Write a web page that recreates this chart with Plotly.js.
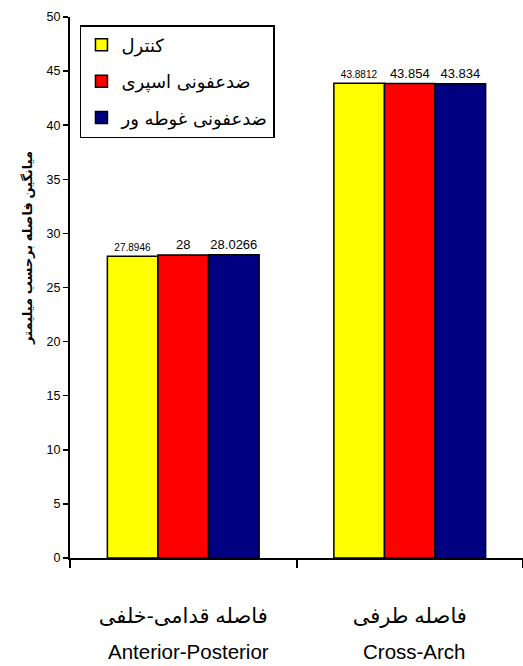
<!DOCTYPE html>
<html><head><meta charset="utf-8">
<script src="https://cdn.plot.ly/plotly-3.0.1.min.js"></script>
<style>html,body{margin:0;padding:0;background:#fff}#chart{width:523px;height:666px}</style>
</head><body><div id="chart"></div>
<script>
const categories = ["فاصله قدامی-خلفی", "فاصله طرفی"];
const categoriesEnglish = ["Anterior-Posterior", "Cross-Arch"];
const seriesNames = ["کنترل", "ضدعفونی اسپری", "ضدعفونی غوطه ور"];
const controlValues = [27.8946, 43.8812];
const sprayValues = [28, 43.854];
const immersionValues = [28.0266, 43.834];
const yTickVals = [0, 5, 10, 15, 20, 25, 30, 35, 40, 45, 50];
const yTitle = "میانگین فاصله برحسب میلیمتر";

const colors = ["#FFFF00", "#FF0000", "#000080"];
const labelSizes = [[10, 10], [13, 13], [13, 13]];
const allValues = [controlValues, sprayValues, immersionValues];
const font = "Arial, 'Liberation Sans', 'DejaVu Sans', sans-serif";

const traces = allValues.map((vals, i) => ({
  type: "bar",
  name: seriesNames[i],
  legendgroup: "g" + i,
  x: categories,
  y: vals,
  text: vals.map(v => String(v)),
  textposition: "outside",
  textfont: {size: labelSizes[i], color: "#000", family: font},
  cliponaxis: false,
  marker: {color: colors[i], line: {color: "#000", width: 1.5}},
  hoverinfo: "skip"
}));

const annotations = categoriesEnglish.map((t, i) => ({
  text: t, x: categories[i], xref: "x", y: -0.173, yref: "paper",
  xanchor: "center", yanchor: "middle", showarrow: false, xshift: 5,
  font: {size: 20.5, family: font, color: "#000"}
}));
annotations.push({
  text: "<b>" + yTitle + "</b>", x: -0.095, xref: "paper", y: 0.573, yref: "paper",
  textangle: -90, xanchor: "center", yanchor: "middle", showarrow: false,
  font: {size: 13, family: font, color: "#000"}
});

const layout = {
  width: 523, height: 666,
  margin: {l: 70, r: 0, t: 17, b: 108},
  paper_bgcolor: "#fff", plot_bgcolor: "#fff",
  font: {family: font, color: "#000"},
  barmode: "group",
  bargap: 0.33,
  bargroupgap: 0,
  showlegend: true,
  legend: {
    x: 0.022, y: 0.985, xanchor: "left", yanchor: "top",
    bordercolor: "#000", borderwidth: 1.5, bgcolor: "#fff",
    font: {size: 18, family: "'DejaVu Sans', Arial, sans-serif"},
    tracegroupgap: 10,
    traceorder: "grouped"
  },
  annotations: annotations,
  xaxis: {
    type: "category",
    showline: true, linecolor: "#000", linewidth: 2,
    ticks: "outside", ticklen: 8, tickwidth: 2, tickcolor: "#000",
    tickson: "boundaries",
    showgrid: false, zeroline: false,
    tickfont: {size: 21, family: font},
    ticklabelstandoff: 38
  },
  yaxis: {
    range: [0, 50],
    tickvals: yTickVals,
    showline: true, linecolor: "#000", linewidth: 2,
    ticks: "outside", ticklen: 5, tickwidth: 1.5, tickcolor: "#000",
    showgrid: false, zeroline: false,
    tickfont: {size: 12.5, family: font}
  }
};

Plotly.newPlot("chart", traces, layout, {displayModeBar: false, staticPlot: true});
</script></body></html>
